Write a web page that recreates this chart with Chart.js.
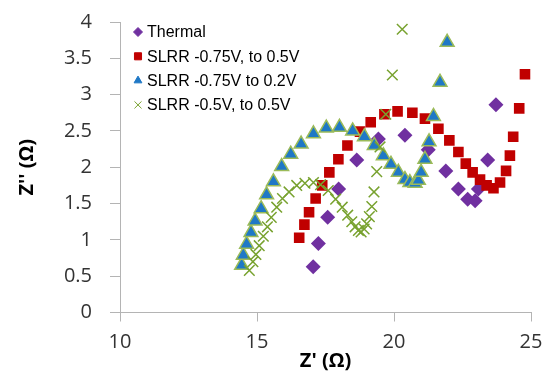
<!DOCTYPE html>
<html>
<head>
<meta charset="utf-8">
<script src="https://cdn.jsdelivr.net/npm/chart.js@4.4.1/dist/chart.umd.min.js"></script>
<style>
    html, body { margin: 0; padding: 0; background: #fff; }
</style>
</head>
<body>
<canvas id="chartNyquist" width="545" height="371"></canvas>
<script>
// Datos: Z' (ohm) y Z'' (ohm) por serie
const etiquetas = ['Thermal', 'SLRR -0.75V, to 0.5V', 'SLRR -0.75V to 0.2V', 'SLRR -0.5V, to 0.5V'];

const thermalZre = [17.05, 17.24, 17.58, 17.98, 18.64, 19.43, 20.40, 21.25, 21.89, 22.35, 22.69, 22.96, 23.08, 23.42, 23.72];
const thermalZim = [0.63, 0.95, 1.31, 1.70, 2.10, 2.39, 2.44, 2.24, 1.95, 1.70, 1.56, 1.54, 1.70, 2.10, 2.86];

const slrr1Zre = [16.54, 16.73, 16.90, 17.14, 17.38, 17.64, 17.97, 18.30, 18.76, 19.15, 19.65, 20.13, 20.67, 21.13, 21.62, 22.02, 22.35, 22.62, 22.87, 23.14, 23.38, 23.63, 23.87, 24.09, 24.23, 24.35, 24.57, 24.78];
const slrr1Zim = [1.03, 1.21, 1.38, 1.57, 1.75, 1.93, 2.11, 2.30, 2.49, 2.62, 2.73, 2.77, 2.75, 2.67, 2.53, 2.37, 2.21, 2.05, 1.93, 1.83, 1.75, 1.71, 1.79, 1.95, 2.16, 2.42, 2.81, 3.28];

const slrr2Zre = [14.44, 14.50, 14.62, 14.78, 14.93, 15.15, 15.35, 15.60, 15.90, 16.23, 16.61, 17.06, 17.53, 18.01, 18.49, 18.92, 19.28, 19.61, 19.89, 20.16, 20.40, 20.58, 20.77, 20.89, 20.99, 21.13, 21.28, 21.44, 21.68, 21.94];
const slrr2Zim = [0.65, 0.79, 0.94, 1.10, 1.26, 1.43, 1.62, 1.80, 2.01, 2.18, 2.32, 2.46, 2.54, 2.55, 2.50, 2.42, 2.30, 2.16, 2.04, 1.93, 1.83, 1.79, 1.78, 1.82, 1.93, 2.11, 2.35, 2.70, 3.17, 3.72];

const slrr3Zre = [14.72, 14.85, 14.96, 15.08, 15.23, 15.38, 15.52, 15.72, 15.93, 16.17, 16.45, 16.75, 17.06, 17.32, 17.60, 17.87, 18.11, 18.31, 18.46, 18.58, 18.70, 18.80, 18.91, 19.00, 19.10, 19.19, 19.27, 19.37, 19.49, 19.70, 19.94, 20.30];
const slrr3Zim = [0.58, 0.70, 0.80, 0.92, 1.05, 1.18, 1.31, 1.45, 1.57, 1.66, 1.75, 1.78, 1.79, 1.76, 1.68, 1.56, 1.45, 1.34, 1.25, 1.18, 1.13, 1.11, 1.15, 1.22, 1.32, 1.46, 1.66, 1.94, 2.28, 2.73, 3.27, 3.90];

const ticksX = [10, 15, 20, 25];
const ticksY = [0, 0.5, 1, 1.5, 2, 2.5, 3, 3.5, 4];

function aPuntos(xs, ys) {
    return xs.map(function(x, i) { return { x: x, y: ys[i] }; });
}

const grisEje = '#B4B4B4';
const fuenteTicks = 'Open Sans';

// Leyenda dibujada dentro del area del grafico (arriba a la izquierda)
const leyendaPlugin = {
    id: 'leyendaInterna',
    afterDatasetsDraw: function(chart) {
        const ctx = chart.ctx;
        const x0 = chart.chartArea.left + 18;
        const y0 = chart.chartArea.top + 10;
        chart.data.datasets.forEach(function(ds, i) {
            const y = y0 + i * 24.3;
            ctx.save();
            ctx.fillStyle = ds.backgroundColor;
            ctx.strokeStyle = ds.pointStyle === 'triangle' ? ds.backgroundColor : ds.borderColor;
            ctx.lineWidth = 1;
            Chart.helpers.drawPoint(ctx, {
                pointStyle: ds.pointStyle,
                radius: ds.radioLeyenda,
                borderWidth: 1,
                rotation: 0
            }, x0, y);
            ctx.fillStyle = '#000';
            ctx.font = '16px "Liberation Sans", Arial, sans-serif';
            ctx.textBaseline = 'middle';
            ctx.textAlign = 'left';
            ctx.fillText(ds.label, x0 + 9, y + 1);
            ctx.restore();
        });
    }
};

const ctx = document.getElementById('chartNyquist');
new Chart(ctx, {
    type: 'scatter',
    data: {
        datasets: [{
            label: etiquetas[0],
            data: aPuntos(thermalZre, thermalZim),
            pointStyle: 'rectRot',
            pointRadius: 7.5,
            backgroundColor: '#7030A0',
            borderColor: '#7030A0',
            borderWidth: 0,
            radioLeyenda: 4.5,
            order: 3
        }, {
            label: etiquetas[1],
            data: aPuntos(slrr1Zre, slrr1Zim),
            pointStyle: 'rect',
            pointRadius: 7.5,
            backgroundColor: '#C00000',
            borderColor: '#C00000',
            borderWidth: 0,
            radioLeyenda: 5,
            order: 2
        }, {
            label: etiquetas[2],
            data: aPuntos(slrr2Zre, slrr2Zim),
            pointStyle: 'triangle',
            pointRadius: 8,
            backgroundColor: '#1F78C6',
            borderColor: '#9BBB59',
            borderWidth: 1.5,
            radioLeyenda: 4.5,
            order: 1
        }, {
            label: etiquetas[3],
            data: aPuntos(slrr3Zre, slrr3Zim),
            pointStyle: 'crossRot',
            pointRadius: 7.5,
            backgroundColor: '#78A22F',
            borderColor: '#78A22F',
            borderWidth: 1.5,
            radioLeyenda: 5,
            order: 0
        }]
    },
    options: {
        responsive: false,
        animation: false,
        layout: {
            padding: { left: 0, right: 14, top: 22, bottom: 0 }
        },
        scales: {
            x: {
                type: 'linear',
                min: 10,
                max: 25,
                afterBuildTicks: function(scale) {
                    scale.ticks = ticksX.map(function(v) { return { value: v }; });
                },
                afterFit: function(scale) {
                    scale.height = 58.5;
                    scale.paddingLeft = 0;
                    scale.paddingRight = 0;
                },
                ticks: {
                    color: '#333',
                    padding: 9,
                    font: { family: fuenteTicks, size: 20 },
                    callback: function(value) { return String(value); }
                },
                grid: { drawOnChartArea: false, drawTicks: true, tickLength: 9, color: grisEje },
                border: { color: grisEje },
                title: {
                    display: true,
                    text: "Z' (Ω)",
                    color: '#000',
                    padding: 0,
                    font: { family: fuenteTicks, size: 20, weight: 'bold', lineHeight: 1 }
                }
            },
            y: {
                type: 'linear',
                min: 0,
                max: 4,
                afterBuildTicks: function(scale) {
                    scale.ticks = ticksY.map(function(v) { return { value: v }; });
                },
                afterFit: function(scale) {
                    scale.width = 120;
                    scale.paddingTop = 0;
                    scale.paddingBottom = 0;
                },
                ticks: {
                    color: '#333',
                    padding: 18,
                    font: { family: fuenteTicks, size: 20 },
                    callback: function(value) { return String(value); }
                },
                grid: { drawOnChartArea: false, drawTicks: true, tickLength: 10, color: grisEje },
                border: { color: grisEje },
                title: {
                    display: true,
                    text: "Z'' (Ω)",
                    color: '#000',
                    padding: { top: 15, bottom: 0 },
                    font: { family: fuenteTicks, size: 20, weight: 'bold' }
                }
            }
        },
        plugins: {
            legend: { display: false },
            tooltip: { enabled: false }
        }
    },
    plugins: [leyendaPlugin]
});
</script>
</body>
</html>
